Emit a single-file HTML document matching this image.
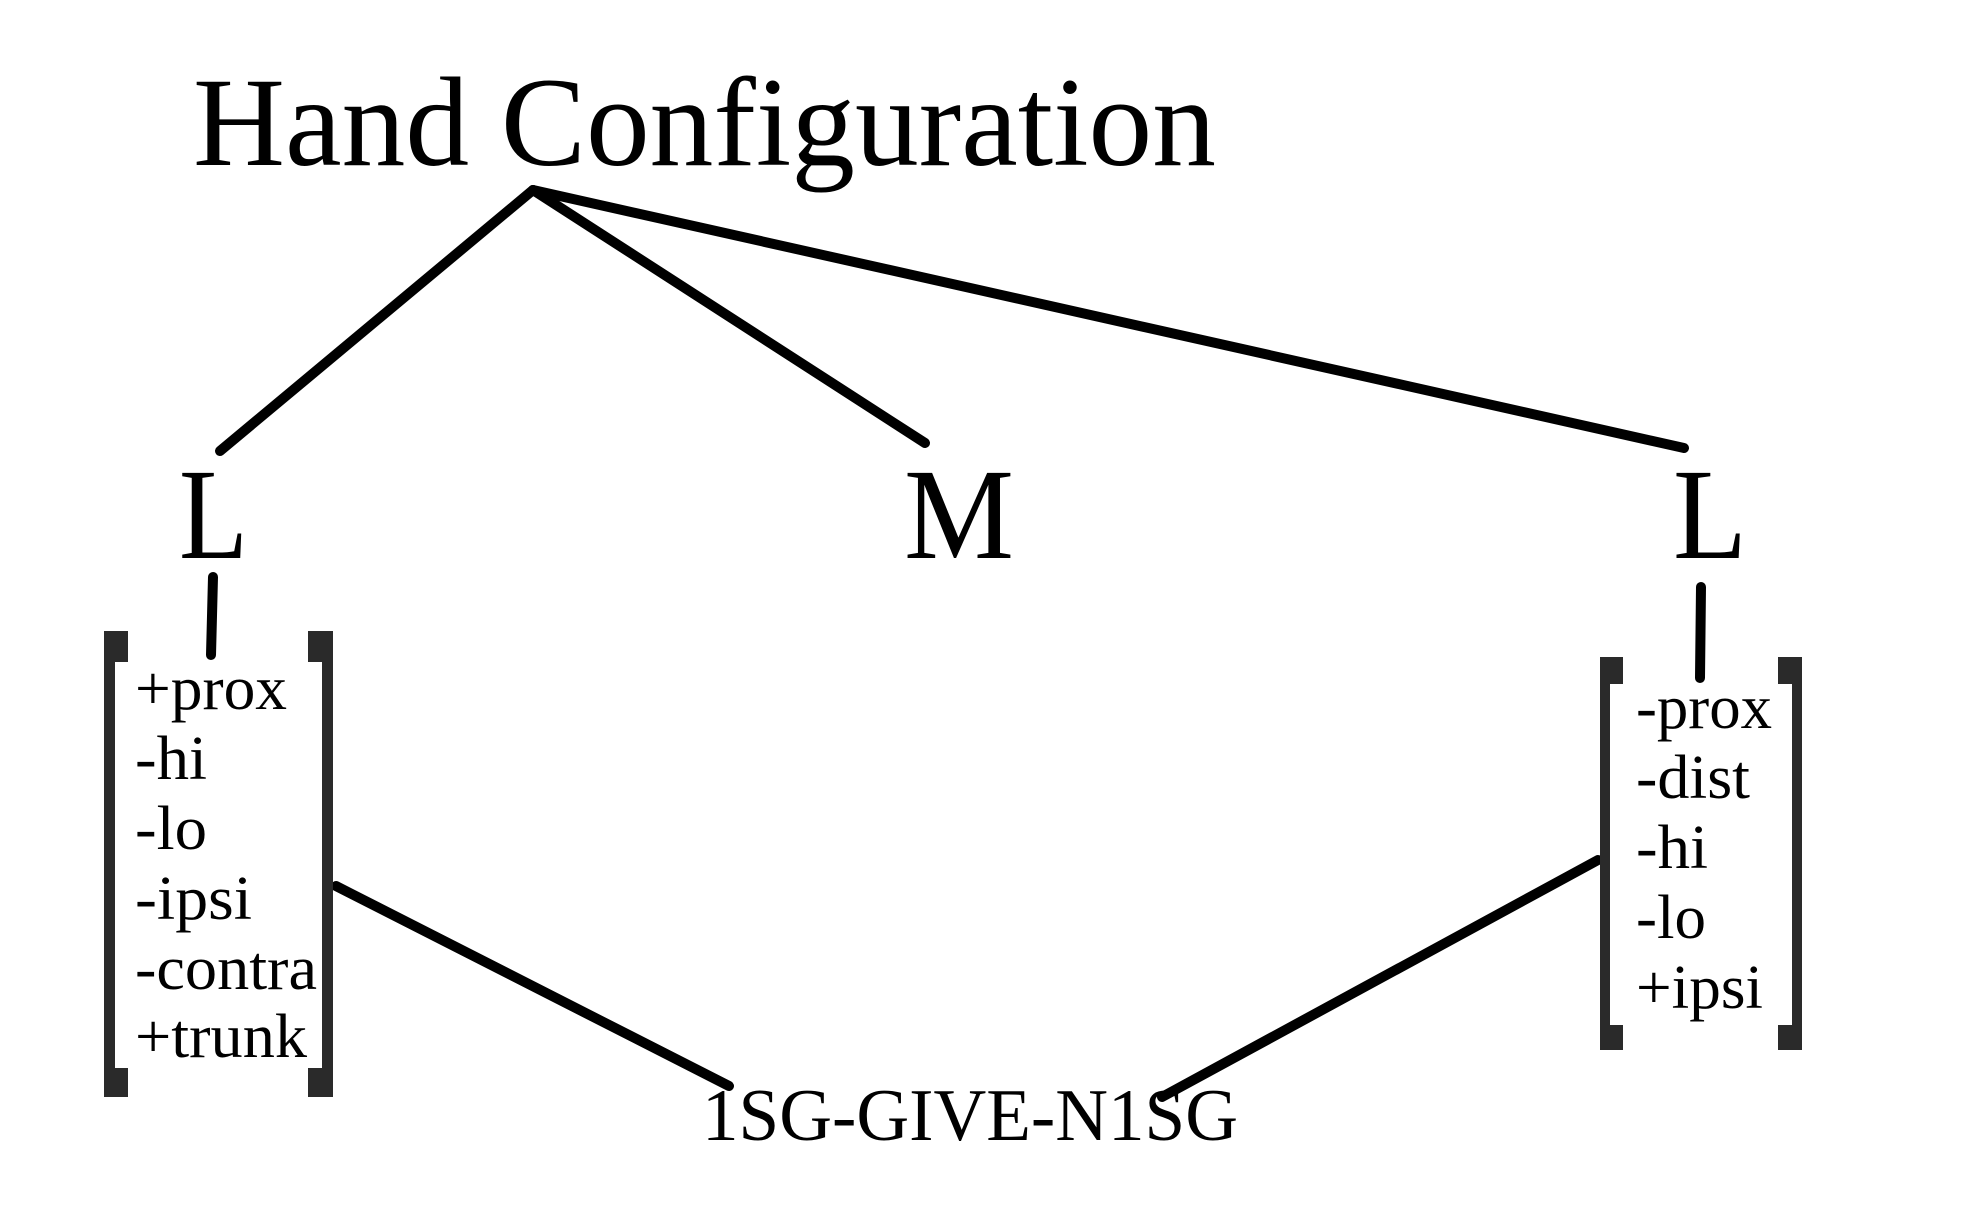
<!DOCTYPE html>
<html><head><meta charset="utf-8"><style>
html,body{margin:0;padding:0;background:#fff;}
svg{display:block;}
text{font-family:"Liberation Serif",serif;fill:#000;}
</style></head><body>
<svg width="1968" height="1228" viewBox="0 0 1968 1228">
<text x="193" y="165" font-size="127" textLength="1023" lengthAdjust="spacingAndGlyphs">Hand Configuration</text>
<g stroke="#000" stroke-width="10" stroke-linecap="round">
<line x1="533" y1="190" x2="220" y2="451"/>
<line x1="533" y1="190" x2="925" y2="443"/>
<line x1="533" y1="190" x2="1684" y2="448"/>
<line x1="213" y1="577" x2="211" y2="655"/>
<line x1="1701" y1="587" x2="1700" y2="678"/>
<line x1="336" y1="886" x2="729" y2="1086"/>
<line x1="1598" y1="860" x2="1162" y2="1097"/>
</g>
<text x="179" y="558" font-size="130" textLength="69" lengthAdjust="spacingAndGlyphs">L</text>
<text x="904" y="558" font-size="130" textLength="110" lengthAdjust="spacingAndGlyphs">M</text>
<text x="1673" y="558" font-size="130" textLength="74" lengthAdjust="spacingAndGlyphs">L</text>
<g fill="#2a2a2a">
<rect x="104" y="631" width="11" height="466"/><rect x="104" y="631" width="24" height="31"/><rect x="104" y="1068" width="24" height="29"/>
<rect x="322" y="631" width="11" height="466"/><rect x="308" y="631" width="25" height="31"/><rect x="308" y="1068" width="25" height="29"/>
</g>
<g font-size="62">
<text x="135" y="709" textLength="152" lengthAdjust="spacingAndGlyphs">+prox</text>
<text x="135" y="779" textLength="72" lengthAdjust="spacingAndGlyphs">-hi</text>
<text x="135" y="849" textLength="72" lengthAdjust="spacingAndGlyphs">-lo</text>
<text x="135" y="919" textLength="117" lengthAdjust="spacingAndGlyphs">-ipsi</text>
<text x="135" y="989" textLength="182" lengthAdjust="spacingAndGlyphs">-contra</text>
<text x="135" y="1057" textLength="172" lengthAdjust="spacingAndGlyphs">+trunk</text>
</g>
<g fill="#2a2a2a">
<rect x="1600" y="657" width="10" height="393"/><rect x="1600" y="657" width="23" height="27"/><rect x="1600" y="1025" width="23" height="25"/>
<rect x="1792" y="657" width="10" height="393"/><rect x="1778" y="657" width="24" height="27"/><rect x="1778" y="1025" width="24" height="25"/>
</g>
<g font-size="62">
<text x="1636" y="728" textLength="136" lengthAdjust="spacingAndGlyphs">-prox</text>
<text x="1636" y="798" textLength="114" lengthAdjust="spacingAndGlyphs">-dist</text>
<text x="1636" y="868" textLength="72" lengthAdjust="spacingAndGlyphs">-hi</text>
<text x="1636" y="938" textLength="70" lengthAdjust="spacingAndGlyphs">-lo</text>
<text x="1636" y="1008" textLength="127" lengthAdjust="spacingAndGlyphs">+ipsi</text>
</g>
<text x="702" y="1140" font-size="74" textLength="536" lengthAdjust="spacingAndGlyphs">1SG-GIVE-N1SG</text>
</svg>
</body></html>
